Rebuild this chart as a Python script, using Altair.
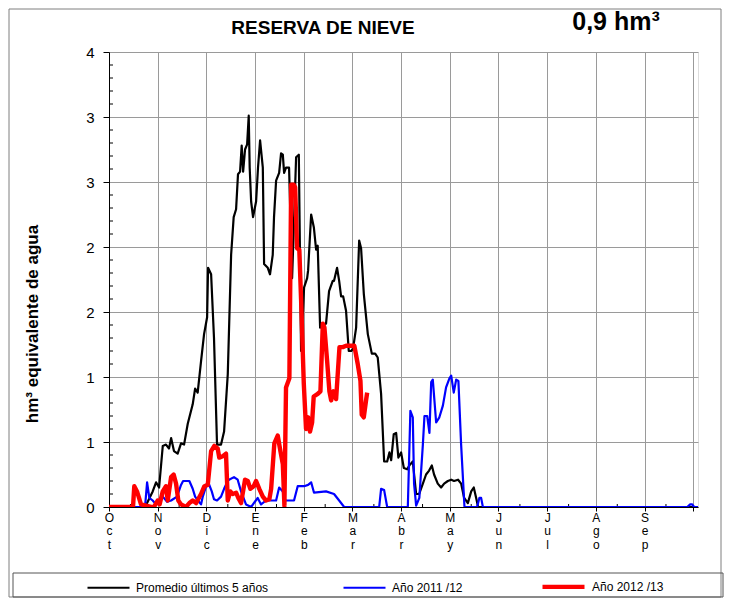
import json
import altair as alt
import pandas as pd

# ---------------- data (day of hydrological year from 1 Oct, hm3) ----------------
series_names = ["Promedio últimos 5 años", "Año 2011 /12", "Año 2012 /13"]
series_colors = ["#000000", "#0000ff", "#ff0000"]
series_widths = [2.2, 2.2, 4.4]

promedio = [
    (0.0, 0), (20.0, 0), (23.8, 0.03), (27.3, 0.12), (29.4, 0.19), (31.3, 0.15), (33.6, 0.47),
    (35.6, 0.48), (37.5, 0.45), (38.8, 0.53), (40.6, 0.43), (42.9, 0.41), (45.0, 0.49), (46.9, 0.48),
    (49.2, 0.64), (52.3, 0.79), (53.8, 0.91), (55.4, 0.88), (57.5, 1.12), (59.4, 1.33), (61.3, 1.46),
    (61.9, 1.84), (63.8, 1.79), (65.6, 1.30), (67.5, 0.48), (70.0, 0.48), (71.9, 0.58), (74.2, 1.02),
    (76.3, 1.94), (77.9, 2.23), (79.4, 2.29), (80.6, 2.56), (81.9, 2.58), (82.9, 2.78), (83.8, 2.58),
    (85.0, 2.75), (86.3, 2.79), (87.3, 3.01), (87.9, 2.61), (88.8, 2.35), (90.0, 2.23), (91.9, 2.35),
    (93.1, 2.61), (94.4, 2.82), (96.1, 2.61), (96.9, 1.87), (99.2, 1.84), (100.6, 1.79), (102.3, 1.94),
    (103.1, 2.23), (104.4, 2.51), (106.3, 2.57), (107.5, 2.72), (108.6, 2.71), (109.4, 2.57),
    (110.6, 2.61), (112.5, 2.61), (114.4, 1.76), (115.6, 2.20), (116.9, 2.69), (118.6, 2.71),
    (120.0, 1.20), (121.9, 1.69), (123.8, 1.76), (124.4, 1.82), (126.3, 2.25), (128.0, 2.15),
    (129.4, 1.98), (130.4, 2.01), (131.9, 1.38), (135.6, 1.41), (137.5, 1.66), (139.8, 1.74),
    (140.6, 1.74), (142.5, 1.84), (143.8, 1.74), (145.0, 1.62), (146.3, 1.62), (148.1, 1.51),
    (149.8, 1.20), (151.3, 1.20), (152.5, 1.22), (154.4, 1.38), (156.3, 2.05), (157.5, 1.99),
    (159.2, 1.64), (161.7, 1.33), (164.2, 1.18), (166.3, 1.18), (167.9, 1.15), (170.0, 0.87),
    (171.9, 0.35), (173.8, 0.35), (175.2, 0.42), (176.3, 0.36), (177.9, 0.56), (179.4, 0.57),
    (180.8, 0.38), (182.5, 0.42), (184.2, 0.30), (186.3, 0.29), (187.7, 0.32), (189.8, 0.35),
    (191.9, 0.10), (193.8, 0.10), (196.1, 0.18), (198.1, 0.25), (200.0, 0.28), (201.7, 0.32),
    (203.1, 0.25), (205.4, 0.18), (207.5, 0.15), (209.4, 0.18), (211.7, 0.20), (213.8, 0.21),
    (215.6, 0.20), (218.1, 0.21), (220.0, 0.18), (221.9, 0.07), (224.2, 0.03), (226.3, 0.12),
    (227.9, 0.15), (229.4, 0.07), (230.6, 0.0), (368.0, 0.0),
]

anio_2011 = [
    (0.0, 0), (22.5, 0), (23.8, 0.19), (25.2, 0.07), (27.3, 0.05), (29.4, 0.02), (31.3, 0.05),
    (33.6, 0.08), (36.3, 0.04), (38.8, 0.05), (42.5, 0.08), (45.0, 0.17), (46.3, 0.20), (50.2, 0.20),
    (52.3, 0.14), (53.8, 0.08), (55.6, 0.05), (57.5, 0.02), (58.6, 0.08), (61.7, 0.20), (64.2, 0.12),
    (65.6, 0.06), (67.5, 0.05), (70.0, 0.08), (71.9, 0.14), (74.2, 0.20), (75.0, 0.21), (78.1, 0.23),
    (80.4, 0.21), (82.5, 0.12), (85.6, 0.02), (88.8, 0), (92.9, 0.07), (95.0, 0.02), (98.1, 0.05),
    (104.4, 0.05), (106.3, 0.15), (108.6, 0.12), (109.4, 0.06), (110.6, 0.05), (115.6, 0.05),
    (117.9, 0.16), (121.9, 0.16), (124.4, 0.17), (126.3, 0.19), (128.1, 0.11), (135.6, 0.12),
    (140.6, 0.10), (143.8, 0.05), (146.9, 0), (168.8, 0), (170.0, 0.14), (171.9, 0.13), (173.8, 0),
    (186.7, 0), (188.3, 0.74), (189.8, 0.69), (190.6, 0.18), (191.9, 0.01), (193.9, 0.07),
    (196.1, 0.48), (197.1, 0.70), (198.8, 0.70), (200.2, 0.57), (201.3, 0.96), (202.3, 0.98),
    (204.4, 0.65), (206.4, 0.69), (208.6, 0.78), (210.6, 0.92), (212.7, 0.99), (213.8, 1.01),
    (215.4, 0.88), (216.9, 0.98), (218.3, 0.97), (220.0, 0.48), (222.1, 0), (230.0, 0),
    (231.4, 0.07), (232.5, 0.07), (233.6, 0), (361.3, 0), (363.1, 0.02), (364.4, 0.02),
    (365.6, 0), (368.0, 0),
]

anio_2012 = [
    (0.0, 0), (15.0, 0), (15.8, 0.16), (17.5, 0.12), (20.0, 0.02), (26.3, 0), (28.1, 0),
    (30.4, 0.05), (31.6, 0.02), (33.6, 0.12), (35.6, 0.16), (36.7, 0.05), (38.8, 0.23), (40.4, 0.25),
    (41.9, 0.18), (43.3, 0.05), (45.0, 0.02), (48.1, 0), (50.2, 0.03), (52.3, 0.05), (54.4, 0.03),
    (57.5, 0.10), (59.6, 0.16), (61.7, 0.17), (63.8, 0.43), (65.8, 0.47), (67.9, 0.45), (68.9, 0.38),
    (71.1, 0.39), (73.1, 0.41), (74.2, 0.05), (75.8, 0.12), (77.3, 0.10), (79.4, 0.11), (80.8, 0.07),
    (82.5, 0.03), (85.0, 0.21), (86.7, 0.20), (88.3, 0.14), (90.4, 0.16), (91.9, 0.20), (93.9, 0.14),
    (96.1, 0.08), (98.1, 0.05), (100.2, 0.06), (101.3, 0.14), (103.3, 0.49), (105.4, 0.55),
    (107.1, 0.43), (108.6, 0.33), (109.6, 0.01), (110.6, 0.92), (112.7, 0.99), (113.8, 2.48),
    (115.4, 2.48), (116.3, 2.46), (117.5, 1.99), (118.9, 1.98), (120.0, 1.60), (121.7, 0.95),
    (123.1, 0.60), (124.4, 0.69), (125.6, 0.58), (126.9, 0.65), (127.9, 0.85), (130.4, 0.87),
    (132.1, 0.89), (133.6, 1.41), (134.6, 1.38), (136.3, 1.12), (137.7, 0.89), (138.8, 0.82),
    (140.2, 0.89), (141.9, 0.83), (144.0, 1.23), (146.1, 1.23), (148.1, 1.24), (151.3, 1.24),
    (153.3, 1.24), (155.4, 1.10), (157.1, 0.97), (157.9, 0.71), (159.2, 0.69), (160.6, 0.82),
    (161.3, 0.88),
]

month_labels = ["Oct", "Nov", "Dic", "Ene", "Feb", "Mar", "Abr", "May", "Jun", "Jul", "Ago", "Sep"]
y_major = [0, 0.5, 1, 1.5, 2, 2.5, 3, 3.5]

# ---------------- build tables ----------------
rows = []
for name, pts in zip(series_names, [promedio, anio_2011, anio_2012]):
    for d, v in pts:
        rows.append({"serie": name, "day": d, "val": v})
df = pd.DataFrame(rows)

FONT = "Liberation Sans"
W, H = 589, 455
X_MAX = 368
month_ticks = [k * 365 / 12 for k in range(13)]
minor_x = [k * 365 / 12 + 13.4 for k in range(12)]
minor_y = [i / 10 for i in range(1, 35) if i % 5]

current = f"{anio_2012[-1][1]:.1f}".replace(".", ",") + " hm³"

xscale = alt.Scale(domain=[0, X_MAX], nice=False, zero=False)
yscale = alt.Scale(domain=[0, 3.5], nice=False)
label_arr = json.dumps(month_labels + [""])
xaxis = alt.Axis(
    values=month_ticks, labelExpr=f"split({label_arr}[round(datum.value*12/365)], '')",
    grid=True, gridColor="#9a9a9a", gridWidth=1, domainColor="#000000", domainWidth=1.2,
    tickColor="#000000", tickSize=4, labelFont=FONT, labelFontSize=12, labelColor="#000000",
    labelLineHeight=13.5, labelPadding=1, labelAngle=0, labelFlush=False, labelOverlap=False,
    title=None,
)
yaxis = alt.Axis(
    values=y_major, labelExpr="'' + round(datum.value)", grid=True, gridColor="#9a9a9a",
    gridWidth=1, domainColor="#000000", tickColor="#000000", tickSize=6, labelFont=FONT,
    labelFontSize=15, labelColor="#000000", labelPadding=9, title=None,
)
cscale = alt.Scale(domain=series_names, range=series_colors)
wscale = alt.Scale(type="ordinal", domain=series_names, range=series_widths)
legend = alt.Legend(
    orient="none", legendX=-23, legendY=511, direction="horizontal", title=None,
    symbolType="stroke", symbolSize=42 * 42, labelFont=FONT, labelFontSize=12,
    labelColor="#000000", columnPadding=70, labelOffset=5, labelLimit=300,
)


def line_layer(i):
    return alt.Chart(df).transform_filter(
        alt.datum.serie == series_names[i]
    ).mark_line(strokeJoin="round", clip=True).encode(
        x=alt.X("day:Q", scale=xscale, axis=xaxis),
        y=alt.Y("val:Q", scale=yscale, axis=yaxis),
        color=alt.Color("serie:N", scale=cscale, legend=legend),
        strokeWidth=alt.StrokeWidth("serie:N", scale=wscale, legend=legend),
    )


one = alt.Data(values=[{}])

frame = alt.Chart(one).mark_rect(fillOpacity=0, stroke="#7f7f7f", strokeWidth=1).encode(
    x=alt.value(-100), x2=alt.value(612), y=alt.value(-43), y2=alt.value(545)
)
legend_box = alt.Chart(one).mark_rect(fillOpacity=0, stroke="#555555", strokeWidth=1).encode(
    x=alt.value(-96), x2=alt.value(614), y=alt.value(521), y2=alt.value(545)
)

minor_y_ticks = alt.Chart(pd.DataFrame({"val": minor_y})).mark_rule(
    color="#000000", strokeWidth=1
).encode(y=alt.Y("val:Q", scale=yscale, axis=yaxis), x=alt.value(0), x2=alt.value(4))

minor_x_ticks = alt.Chart(pd.DataFrame({"day": minor_x})).mark_rule(
    color="#000000", strokeWidth=1
).encode(x=alt.X("day:Q", scale=xscale, axis=xaxis), y=alt.value(H - 3), y2=alt.value(H))

title = alt.Chart(one).mark_text(
    text="RESERVA DE NIEVE", font=FONT, fontSize=19, fontWeight="bold", align="center",
    baseline="middle", color="#000000",
).encode(x=alt.value(214), y=alt.value(-24))

value_txt = alt.Chart(one).mark_text(
    text=current, font=FONT, fontSize=25, fontWeight="bold", align="center",
    baseline="middle", color="#000000",
).encode(x=alt.value(507), y=alt.value(-30))

ytitle = alt.Chart(one).mark_text(
    text="hm³ equivalente de agua", font=FONT, fontSize=17, fontWeight="bold", angle=270,
    align="center", baseline="middle", color="#000000",
).encode(x=alt.value(-76), y=alt.value(272))

chart = alt.layer(
    frame, legend_box, minor_y_ticks, minor_x_ticks,
    line_layer(0), line_layer(1), line_layer(2),
    title, value_txt, ytitle,
).properties(width=W, height=H, padding=0, background="#ffffff").configure_view(
    stroke="#9a9a9a", strokeWidth=1
).configure(font=FONT)

chart.save("out.html", embed_options={"renderer": "svg", "actions": False})
